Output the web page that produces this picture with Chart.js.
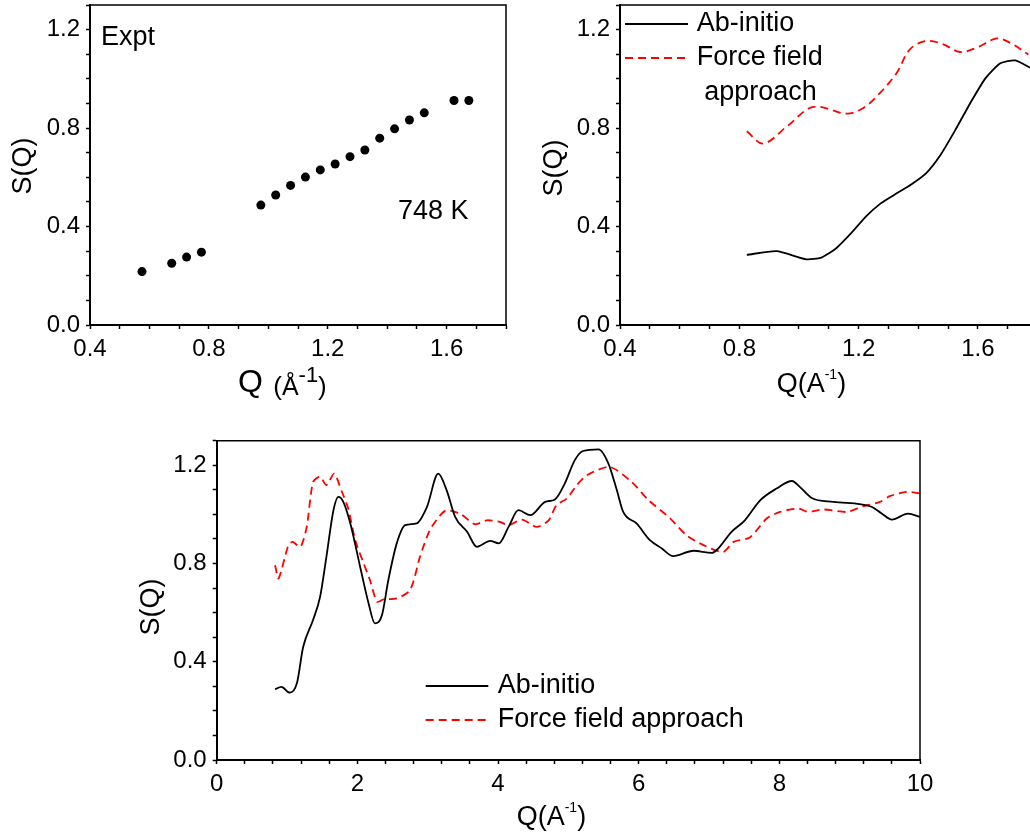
<!DOCTYPE html>
<html>
<head>
<meta charset="utf-8">
<script src="https://cdn.jsdelivr.net/npm/chart.js@4.4.1/dist/chart.umd.min.js"></script>
<style>
  html, body { margin: 0; padding: 0; background: #fff; overflow: hidden; width: 1030px; height: 834px; }
  canvas { position: absolute; }
  #c1 { left: 0; top: 0; }
  #c2 { left: 520px; top: 0; }
  #c3 { left: 0; top: 410px; }
</style>
</head>
<body>
<canvas id="c1" width="520" height="410"></canvas>
<canvas id="c2" width="540" height="410"></canvas>
<canvas id="c3" width="1030" height="424"></canvas>
<script>
const FONT = "'Liberation Sans', Arial, Helvetica, sans-serif";

// experiment, 748 K
const exptQ = [0.575, 0.675, 0.725, 0.775, 0.975, 1.025, 1.075, 1.125, 1.175, 1.225, 1.275, 1.325, 1.375, 1.425, 1.475, 1.525, 1.625, 1.675];
const exptS = [0.217, 0.251, 0.276, 0.296, 0.487, 0.528, 0.567, 0.601, 0.630, 0.654, 0.684, 0.711, 0.759, 0.797, 0.833, 0.862, 0.912, 0.912];

// low-Q window of the simulations
const abLowQ = [0.825, 0.925, 1.025, 1.075, 1.125, 1.175, 1.225, 1.275, 1.325, 1.375, 1.425, 1.475, 1.525, 1.575, 1.625, 1.675, 1.725, 1.775];
const abLowS = [0.285, 0.300, 0.267, 0.274, 0.312, 0.373, 0.441, 0.495, 0.533, 0.570, 0.615, 0.692, 0.794, 0.903, 1.002, 1.063, 1.075, 1.045];
const ffLowQ = [0.825, 0.880, 0.960, 1.048, 1.160, 1.216, 1.272, 1.328, 1.372, 1.428, 1.484, 1.540, 1.596, 1.663, 1.707, 1.769];
const ffLowS = [0.787, 0.737, 0.807, 0.886, 0.859, 0.882, 0.943, 1.025, 1.120, 1.154, 1.140, 1.109, 1.127, 1.164, 1.147, 1.099];

// full Q range
const abQ = [0.83, 0.92, 1.04, 1.14, 1.23, 1.37, 1.47, 1.56, 1.66, 1.73, 1.80, 1.90, 2.04, 2.16, 2.25, 2.35, 2.44, 2.56, 2.68, 2.84,
  2.99, 3.15, 3.27, 3.39, 3.56, 3.70, 3.89, 4.01, 4.15, 4.29, 4.46, 4.67, 4.81, 4.95, 5.09, 5.21, 5.43, 5.57, 5.69, 5.78,
  5.97, 6.16, 6.33, 6.49, 6.78, 7.04, 7.13, 7.32, 7.51, 7.73, 7.96, 8.18, 8.29, 8.46, 8.77, 9.31, 9.46, 9.60, 9.83, 10.0];
const abS = [0.288, 0.298, 0.274, 0.312, 0.461, 0.570, 0.664, 0.827, 1.017, 1.071, 1.051, 0.963, 0.786, 0.637, 0.556, 0.590, 0.732, 0.882, 0.956, 0.963,
  1.031, 1.166, 1.098, 0.990, 0.929, 0.868, 0.892, 0.882, 0.949, 1.017, 0.997, 1.051, 1.061, 1.126, 1.220, 1.258, 1.265, 1.207, 1.098, 1.010,
  0.963, 0.895, 0.861, 0.830, 0.852, 0.843, 0.861, 0.929, 0.976, 1.058, 1.105, 1.136, 1.112, 1.067, 1.051, 1.031, 1.003, 0.979, 1.003, 0.990];
const ffQ = [0.83, 0.88, 1.02, 1.08, 1.19, 1.28, 1.37, 1.47, 1.56, 1.67, 1.78, 1.87, 1.97, 2.09, 2.18, 2.28, 2.37, 2.56, 2.75, 2.89,
  3.03, 3.18, 3.27, 3.46, 3.67, 3.84, 4.03, 4.15, 4.34, 4.55, 4.72, 4.83, 4.98, 5.12, 5.26, 5.59, 5.90, 6.14, 6.45, 6.68,
  6.92, 7.20, 7.35, 7.58, 7.82, 8.01, 8.27, 8.41, 8.63, 8.96, 9.19, 9.43, 9.57, 9.81, 10.0];
const ffS = [0.793, 0.739, 0.875, 0.888, 0.868, 0.949, 1.132, 1.153, 1.119, 1.166, 1.092, 1.024, 0.895, 0.800, 0.732, 0.644, 0.654, 0.658, 0.692, 0.827,
  0.936, 0.997, 1.017, 1.003, 0.960, 0.976, 0.969, 0.956, 0.979, 0.949, 0.976, 1.037, 1.065, 1.119, 1.159, 1.193, 1.132, 1.058, 0.983, 0.915,
  0.875, 0.847, 0.888, 0.906, 0.983, 1.010, 1.024, 1.010, 1.020, 1.010, 1.033, 1.051, 1.074, 1.092, 1.085];

const qMajorLow = [0.4, 0.8, 1.2, 1.6];
const qMajorFull = [0, 2, 4, 6, 8, 10];
const sMajor = [0, 0.4, 0.8, 1.2];

const pts = (xs, ys) => xs.map((x, i) => ({ x, y: ys[i] }));
const near = (v, list) => list.some((t) => Math.abs(t - v) < 1e-6);

function axis(min, max, step, majors, digits, size) {
  return {
    type: "linear", min, max,
    ticks: {
      stepSize: step, autoSkip: false, maxRotation: 0, minRotation: 0, color: "#000", padding: 6,
      font: { family: FONT, size: 24 },
      callback: (v) => (near(v, majors) ? Number(v).toFixed(digits) : ""),
    },
    grid: { drawOnChartArea: false, tickLength: 4, tickColor: "#000", tickWidth: 1.5 },
    border: { color: "#000", width: 2 },
    afterFit: (s) => {
      if (s.isHorizontal()) s.height = size; else s.width = size;
      // plot box is placed by the layout padding alone
      s.paddingTop = s.paddingBottom = s.paddingLeft = s.paddingRight = 0;
    },
  };
}

function runs(ctx, x, y, parts) {
  ctx.textAlign = "left";
  ctx.textBaseline = "alphabetic";
  for (const [txt, size, dy] of parts) {
    ctx.font = `${size}px ${FONT}`;
    ctx.fillText(txt, x, y - dy);
    x += ctx.measureText(txt).width;
  }
}

function yTitle(ctx, x, y) {
  ctx.save();
  ctx.translate(x, y);
  ctx.rotate(-Math.PI / 2);
  ctx.font = `27px ${FONT}`;
  ctx.textAlign = "center";
  ctx.textBaseline = "middle";
  ctx.fillText("S(Q)", 0, 0);
  ctx.restore();
}

function frame(chart) {
  const { ctx, chartArea: a } = chart;
  ctx.save();
  ctx.strokeStyle = "#000";
  ctx.lineWidth = 1.5;
  ctx.beginPath();
  ctx.moveTo(a.left, a.top);
  ctx.lineTo(a.right, a.top);
  ctx.lineTo(a.right, a.bottom);
  ctx.stroke();
  ctx.restore();
}

// legend rows: [x0, x1, y, textX, lines]
function legend(chart, rows) {
  const ctx = chart.ctx;
  ctx.save();
  chart.data.datasets.forEach((ds, i) => {
    const r = rows[i];
    ctx.strokeStyle = ds.borderColor;
    ctx.lineWidth = ds.borderWidth;
    ctx.setLineDash(ds.borderDash || []);
    ctx.beginPath();
    ctx.moveTo(r[0], r[2]);
    ctx.lineTo(r[1], r[2]);
    ctx.stroke();
    ctx.setLineDash([]);
    ctx.fillStyle = "#000";
    ctx.font = `27px ${FONT}`;
    ctx.textAlign = "left";
    ctx.textBaseline = "middle";
    r[4].forEach((ln, k) => ctx.fillText(ln[0], r[3] + ln[1], r[2] + k * 34.5));
  });
  ctx.restore();
}

const abStyle = { borderColor: "#000", borderWidth: 1.8, pointRadius: 0, fill: false };
const ffStyle = { borderColor: "#ff0000", borderWidth: 1.8, borderDash: [8, 5], pointRadius: 0, fill: false };

// top left: experiment
new Chart(document.getElementById("c1"), {
  type: "scatter",
  data: { datasets: [{ label: "Expt", data: pts(exptQ, exptS), pointRadius: 4.5, pointBackgroundColor: "#000", pointBorderWidth: 0 }] },
  options: {
    responsive: false, animation: false, events: [],
    layout: { padding: { left: 0, top: 5, right: 14, bottom: 0 } },
    plugins: { legend: { display: false }, tooltip: { enabled: false } },
    scales: { x: axis(0.4, 1.8, 0.1, qMajorLow, 1, 85), y: axis(0, 1.3, 0.1, sMajor, 1, 90) },
  },
  plugins: [{
    id: "decor1",
    afterDraw(chart) {
      const ctx = chart.ctx;
      frame(chart);
      ctx.save();
      ctx.fillStyle = "#000";
      ctx.font = `27px ${FONT}`;
      ctx.textBaseline = "middle";
      ctx.fillText("Expt", 101, 38);
      ctx.fillText("748 K", 398, 212);
      runs(ctx, 238, 392, [["Q", 32, 0]]);
      runs(ctx, 266, 395, [[" (", 26, 0], ["Å", 25, 0], ["-1", 22, 13], [")", 26, 0]]);
      yTitle(ctx, 24, 166);
      ctx.restore();
    },
  }],
});

// top right: low-Q window (right edge runs past the page)
new Chart(document.getElementById("c2"), {
  type: "line",
  data: {
    datasets: [
      { label: "Ab-initio", data: pts(abLowQ, abLowS), tension: 0.2, ...abStyle },
      { label: "Force field approach", data: pts(ffLowQ, ffLowS), tension: 0.35, ...ffStyle },
    ],
  },
  options: {
    responsive: false, animation: false, events: [],
    layout: { padding: { left: 0, top: 5, right: 22.4, bottom: 0 } },
    plugins: { legend: { display: false }, tooltip: { enabled: false } },
    scales: { x: axis(0.4, 1.8, 0.1, qMajorLow, 1, 85), y: axis(0, 1.3, 0.1, sMajor, 1, 100) },
  },
  plugins: [{
    id: "decor2",
    afterDraw(chart) {
      const ctx = chart.ctx;
      frame(chart);
      ctx.save();
      ctx.fillStyle = "#000";
      legend(chart, [
        [105, 168, 24, 176.7, [["Ab-initio", 0]]],
        [105, 168, 58, 176.7, [["Force field", 0], ["approach", 7.6]]],
      ]);
      runs(ctx, 256.7, 392, [["Q(A", 27, 0], ["-1", 14, 13], [")", 27, 0]]);
      yTitle(ctx, 35, 168);
      ctx.restore();
    },
  }],
});

// bottom: full Q range
new Chart(document.getElementById("c3"), {
  type: "line",
  data: {
    datasets: [
      { label: "Ab-initio", data: pts(abQ, abS), cubicInterpolationMode: "monotone", ...abStyle },
      { label: "Force field approach", data: pts(ffQ, ffS), tension: 0.25, ...ffStyle },
    ],
  },
  options: {
    responsive: false, animation: false, events: [],
    layout: { padding: { left: 0, top: 30.7, right: 110, bottom: 0 } },
    plugins: { legend: { display: false }, tooltip: { enabled: false } },
    scales: { x: axis(0, 10, 0.4, qMajorFull, 0, 74), y: axis(0, 1.3, 0.1, sMajor, 1, 216.7) },
  },
  plugins: [{
    id: "decor3",
    afterDraw(chart) {
      const ctx = chart.ctx;
      frame(chart);
      ctx.save();
      ctx.fillStyle = "#000";
      legend(chart, [
        [425.7, 488.3, 276, 497.7, [["Ab-initio", 0]]],
        [425.7, 488.3, 310, 497.7, [["Force field approach", 0]]],
      ]);
      runs(ctx, 516.7, 415, [["Q(A", 27, 0], ["-1", 14, 13], [")", 27, 0]]);
      yTitle(ctx, 151.5, 197);
      ctx.restore();
    },
  }],
});
</script>
</body>
</html>
